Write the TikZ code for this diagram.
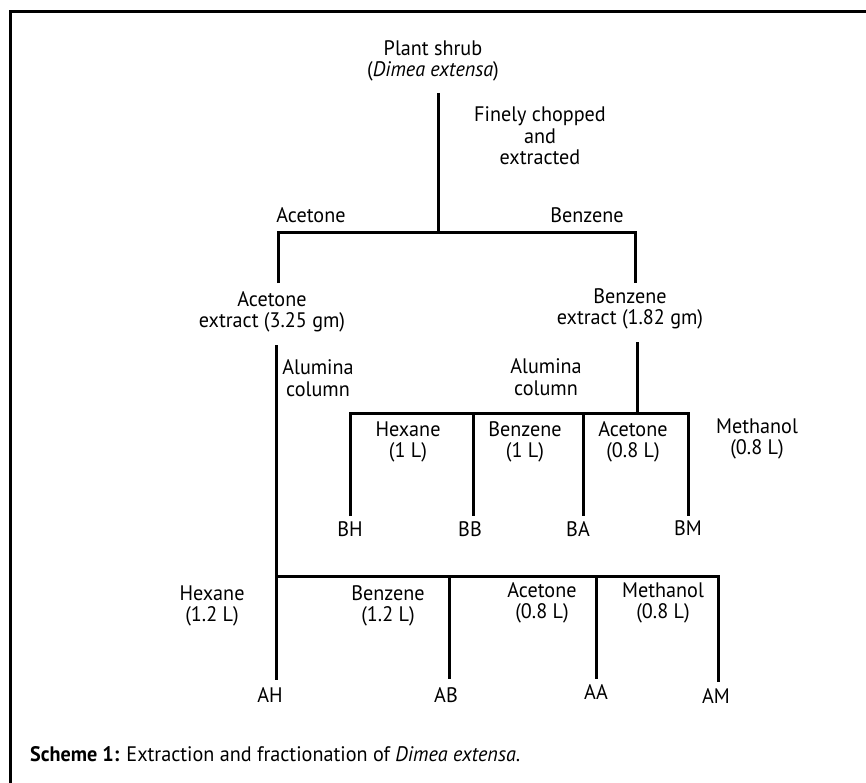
\documentclass[tikz,border=0pt]{standalone}
\usepackage{fontspec}
\setmainfont[FakeStretch=0.96]{PT Sans}
\tikzset{
  lbl/.style={align=center, inner sep=0pt, font=\fontsize{21}{21.5}\selectfont},
  stem/.style={line width=3pt},
  frame/.style={line width=3pt}
}
\begin{document}
\begin{tikzpicture}[x=1pt, y=-1pt]
\useasboundingbox (0,0) rectangle (866,783);

\draw[frame] (10,783) -- (10,12) -- (866,12);

\node[lbl] (plant) at (433,61) {Plant shrub\\(\textit{Dimea extensa})};
\node[lbl] (chop) at (540,136) {Finely chopped\\and\\extracted};
\node[lbl] (acetlbl) at (311,215) {Acetone};
\node[lbl] (benzlbl) at (587,215) {Benzene};
\node[lbl] (aext) at (272,312) {Acetone\\extract (3.25 gm)};
\node[lbl] (bext) at (630,309) {Benzene\\extract (1.82 gm)};
\node[lbl] (alumA) at (318,378) {Alumina\\column};
\node[lbl] (alumB) at (546,377) {Alumina\\column};

\node[lbl] (hexB) at (408,442) {Hexane\\(1 L)};
\node[lbl] (benB) at (525,442) {Benzene\\(1 L)};
\node[lbl] (aceB) at (633,442) {Acetone\\(0.8 L)};
\node[lbl] (metB) at (757,439) {Methanol\\(0.8 L)};
\node[lbl] (BH) at (350,529) {BH};
\node[lbl] (BB) at (470,529) {BB};
\node[lbl] (BA) at (578,529) {BA};
\node[lbl] (BM) at (688,528) {BM};

\node[lbl] (hexA) at (212,606) {Hexane\\(1.2 L)};
\node[lbl] (benA) at (388,606) {Benzene\\(1.2 L)};
\node[lbl] (aceA) at (542,603) {Acetone\\(0.8 L)};
\node[lbl] (metA) at (663,603) {Methanol\\(0.8 L)};
\node[lbl] (AH) at (270,695) {AH};
\node[lbl] (AB) at (446,695) {AB};
\node[lbl] (AA) at (596,692) {AA};
\node[lbl] (AM) at (716,696) {AM};

\coordinate (root) at (438,93);
\coordinate (split) at (438,233);
\coordinate (aend) at (278,283);
\coordinate (bend) at (635,283);
\coordinate (atop) at (276,345);
\coordinate (btop) at (637,342);
\coordinate (bbar) at (637,413);
\coordinate (abar) at (276,576);

\draw[stem] (root) -- (split);
\draw[stem] (aend) -- (aend |- split) -- (bend |- split) -- (bend);
\draw[stem] (btop) -- (bbar);
\draw[stem] (BH.north |- 0,516) -- (BH.north |- bbar) -- (BM.north |- bbar) -- (BM.north |- 0,516);
\draw[stem] (473,413) -- (473,516);
\draw[stem] (583,413) -- (583,516);
\draw[stem] (atop) -- (abar) -- (276,680);
\draw[stem] (abar) -- (718,576) -- (718,682);
\draw[stem] (449,576) -- (449,679);
\draw[stem] (596,576) -- (596,679);

\node[anchor=base west, inner sep=0pt, font=\fontsize{21}{21.5}\selectfont] (caption) at (30,761) {\textbf{Scheme 1:} Extraction and fractionation of \textit{Dimea extensa}.};
\end{tikzpicture}
\end{document}
